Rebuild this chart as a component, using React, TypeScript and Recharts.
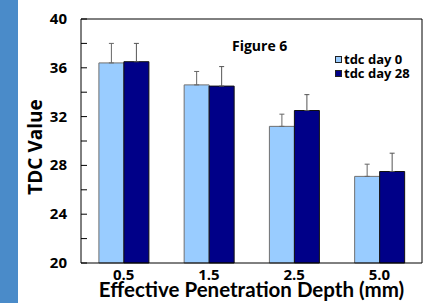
import React from 'react';
import { BarChart, Bar, XAxis, YAxis, Legend, ErrorBar, Label } from 'recharts';

// values
const depths = ['0.5', '1.5', '2.5', '5.0'];
const tdcDay0 = [36.4, 34.6, 31.2, 27.1];
const tdcDay28 = [36.5, 34.5, 32.5, 27.5];
const errDay0 = [1.6, 1.1, 1.0, 1.0];
const errDay28 = [1.5, 1.6, 1.3, 1.5];
const yTicks = [20, 22, 24, 26, 28, 30, 32, 34, 36, 38, 40];

const font = '"Open Sans", sans-serif';
const titleFont = 'Lato, sans-serif';

const data = depths.map((d, i) => ({
  depth: d,
  day0: tdcDay0[i],
  day28: tdcDay28[i],
  err0: [0, errDay0[i]],
  err28: [0, errDay28[i]],
}));

// labels every 4, small inward tick every 2
const YTick = (props: any) => {
  const { x, y, payload } = props;
  const axisX = x + 14;
  return (
    <g>
      <line x1={axisX} x2={axisX + 6} y1={y} y2={y} stroke="#000" strokeWidth={1} />
      {payload.value % 4 === 0 && (
        <text x={x} y={y} dy={5} textAnchor="end" fontFamily={font} fontWeight={700} fontSize={15} fill="#000">
          {payload.value}
        </text>
      )}
    </g>
  );
};

const YTitle = (props: any) => {
  const { viewBox } = props;
  const cx = viewBox.x + 35;
  const cy = viewBox.y + viewBox.height / 2 + 6;
  return (
    <text
      x={cx}
      y={cy}
      dy={7}
      transform={`rotate(-90, ${cx}, ${cy})`}
      textAnchor="middle"
      fontFamily={font}
      fontWeight={700}
      fontSize={19}
      fill="#000"
    >
      TDC Value
    </text>
  );
};

const LegendBox = (props: any) => {
  const { payload } = props;
  return (
    <div style={{ fontFamily: font, fontWeight: 700, fontSize: 13, lineHeight: '14px', color: '#000' }}>
      {payload.map((p: any) => (
        <div key={p.value} style={{ display: 'flex', alignItems: 'center', whiteSpace: 'nowrap' }}>
          <span
            style={{
              display: 'inline-block',
              width: 7,
              height: 7,
              boxSizing: 'border-box',
              background: p.color,
              border: '1px solid #222',
              marginRight: 2,
            }}
          />
          {p.value}
        </div>
      ))}
    </div>
  );
};

const App: React.FC = () => {
  return (
    <div style={{ position: 'fixed', left: 0, top: 0, width: 431, height: 303, background: '#fff' }}>
      <div style={{ position: 'absolute', left: 0, top: 0, width: 18, height: 303, background: '#4a8bc9' }} />
      <div
        style={{
          position: 'absolute',
          left: 232,
          top: 38,
          fontFamily: font,
          fontWeight: 700,
          fontSize: 14,
          lineHeight: '16px',
          color: '#000',
        }}
      >
        Figure 6
      </div>
      <BarChart
        width={431}
        height={303}
        data={data}
        margin={{ top: 18, right: 8, left: 0, bottom: 0 }}
        barCategoryGap="21%"
        barGap={0}
      >
        <XAxis
          dataKey="depth"
          height={40}
          axisLine={{ stroke: '#000' }}
          tickLine={false}
          tickMargin={0}
          tick={{ fontFamily: font, fontWeight: 700, fontSize: 15, fill: '#000' }}
          label={{
            value: 'Effective Penetration Depth (mm)',
            position: 'insideBottom',
            offset: 6,
            style: { fontFamily: titleFont, fontWeight: 700, fontSize: 20.5, fill: '#000' },
          }}
        />
        <XAxis xAxisId="top" dataKey="depth" orientation="top" height={1} tick={false} tickLine={false} axisLine={{ stroke: '#000' }} />
        <YAxis
          domain={[20, 40]}
          ticks={yTicks}
          interval={0}
          width={81}
          axisLine={{ stroke: '#000' }}
          tickLine={false}
          tickSize={0}
          tickMargin={14}
          tick={<YTick />}
        >
          <Label content={<YTitle />} />
        </YAxis>
        <YAxis yAxisId="right" orientation="right" width={1} domain={[20, 40]} tick={false} tickLine={false} axisLine={{ stroke: '#000' }} />
        <Legend
          layout="vertical"
          verticalAlign="middle"
          align="center"
          content={<LegendBox />}
          wrapperStyle={{ top: 52, left: 335, width: 90 }}
        />
        <Bar dataKey="day0" name="tdc day 0" fill="#99ccff" stroke="#707070" strokeWidth={1} isAnimationActive={false}>
          <ErrorBar dataKey="err0" direction="y" width={2.5} stroke="#666" strokeWidth={1} />
        </Bar>
        <Bar dataKey="day28" name="tdc day 28" fill="#000088" stroke="#111" strokeWidth={1} isAnimationActive={false}>
          <ErrorBar dataKey="err28" direction="y" width={2.5} stroke="#555" strokeWidth={1} />
        </Bar>
      </BarChart>
    </div>
  );
};

export default App;
